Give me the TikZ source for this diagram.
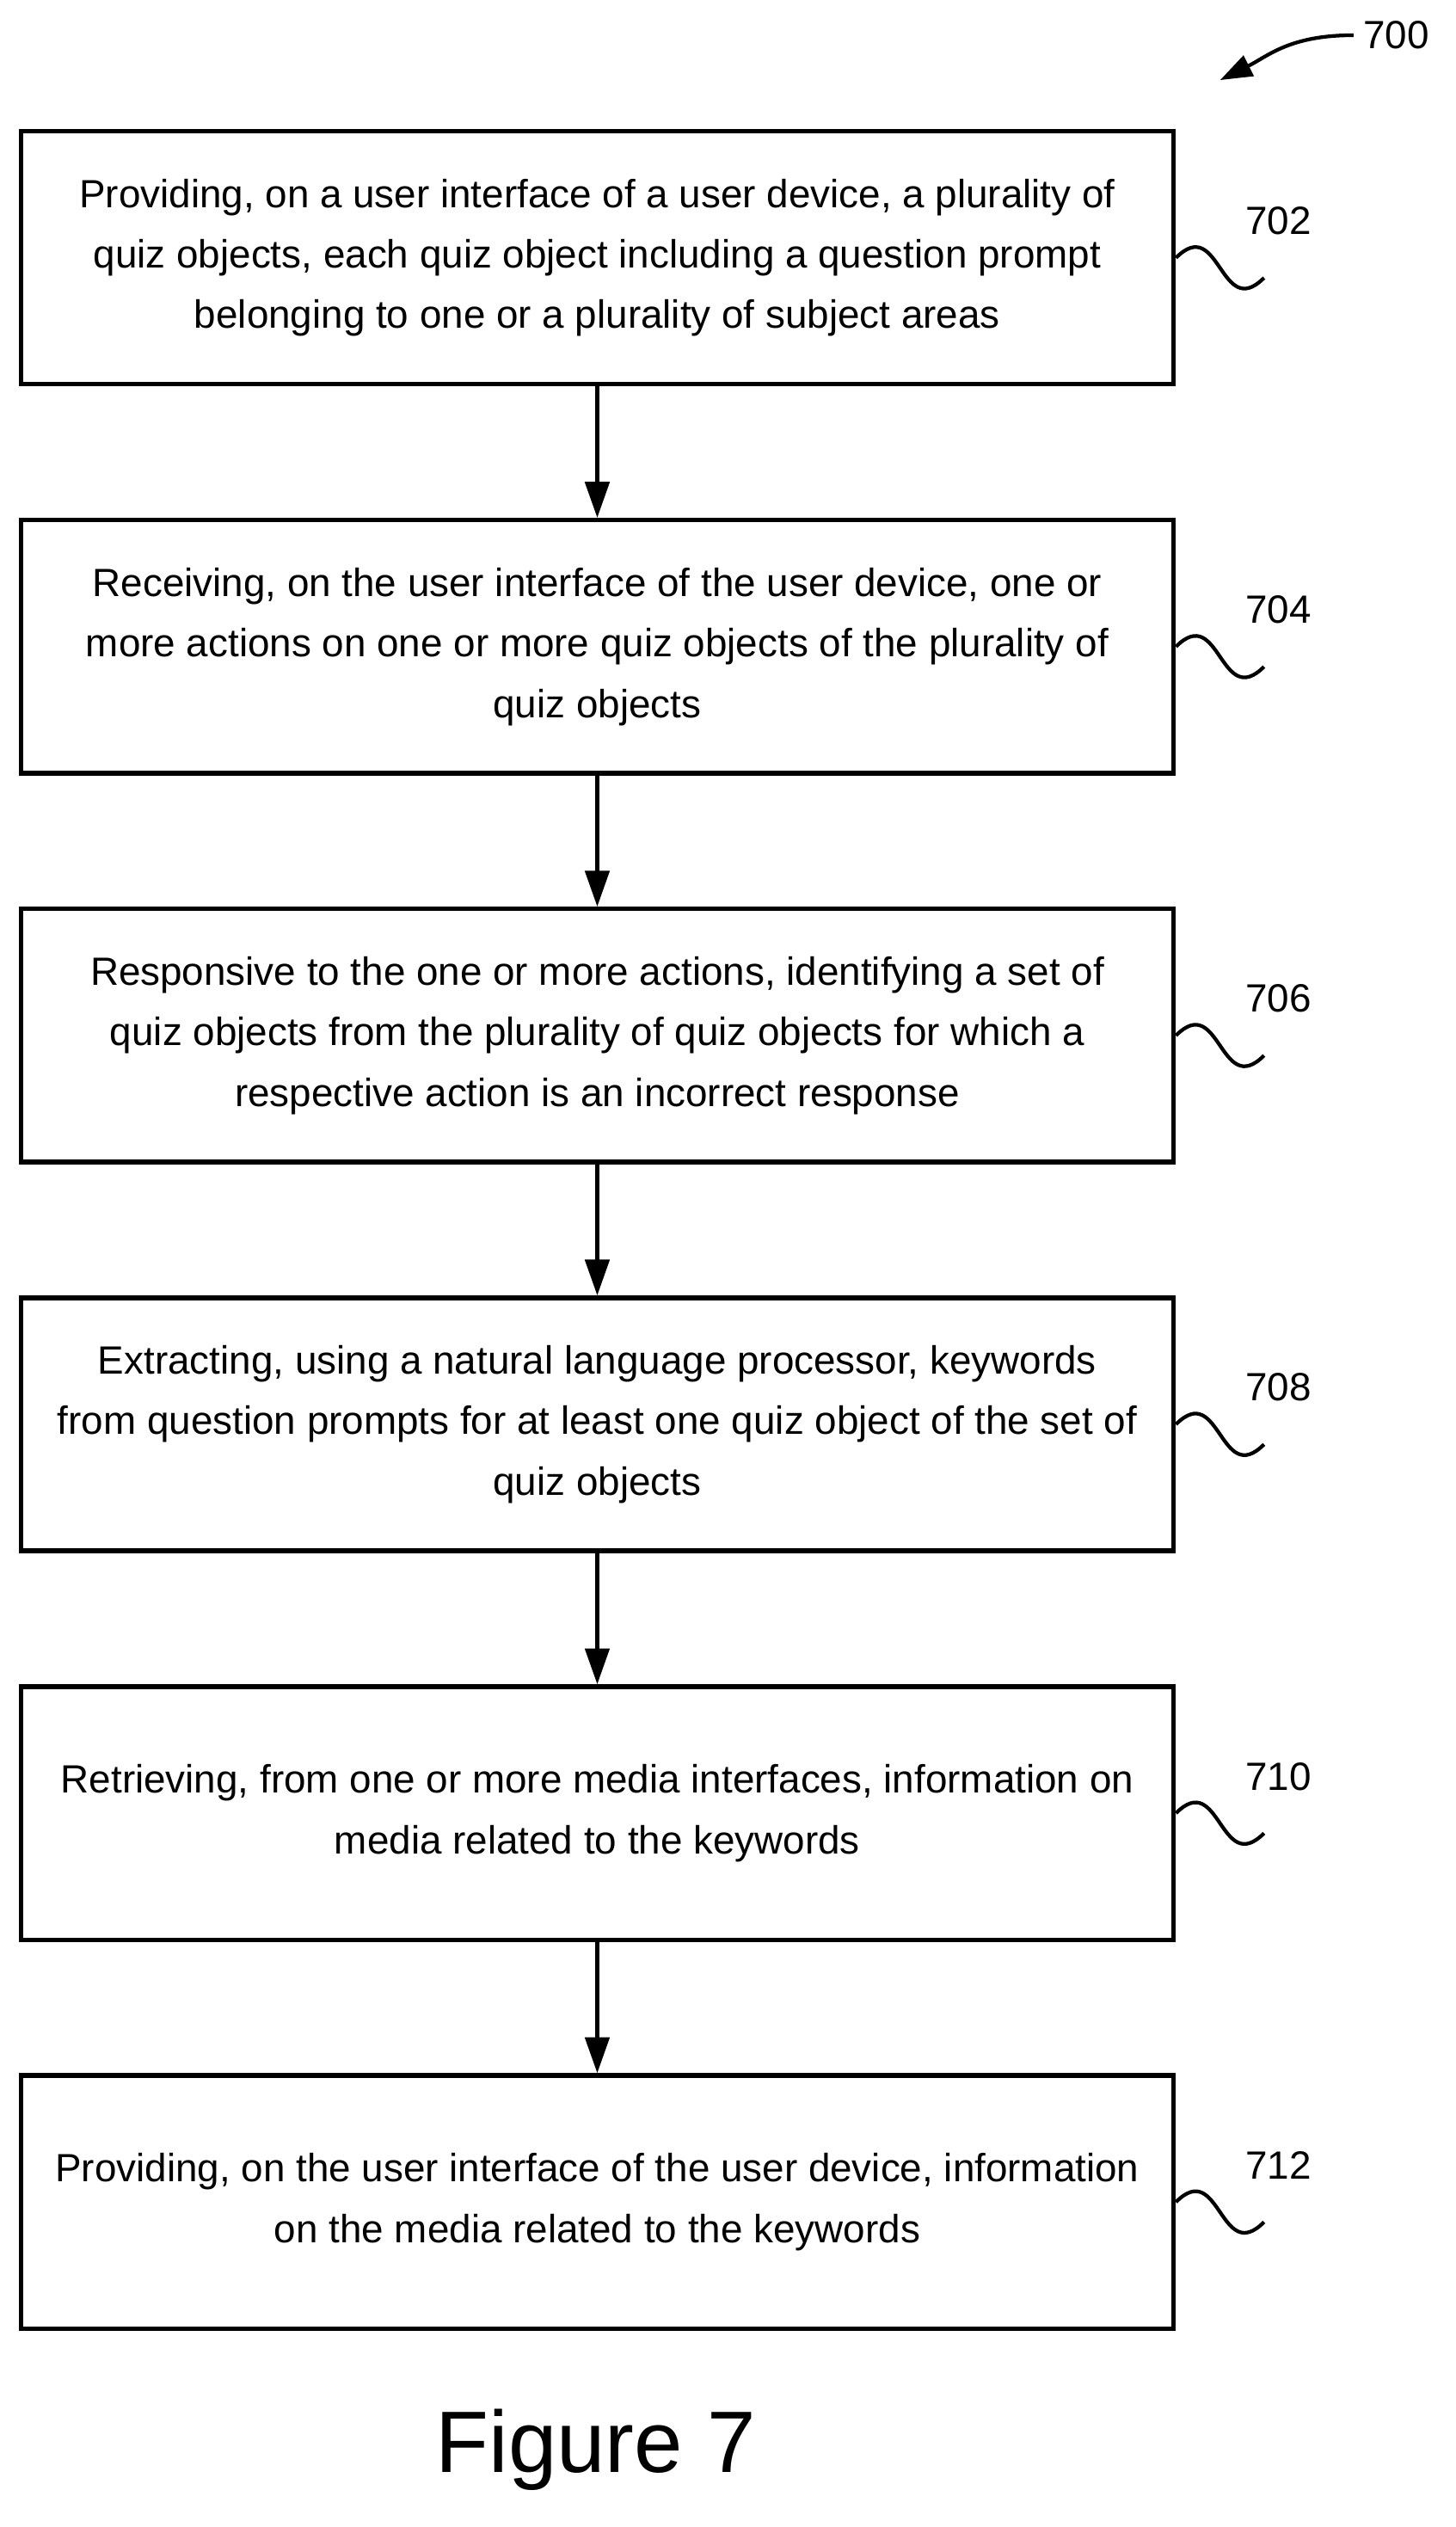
\documentclass[tikz,border=0pt]{standalone}
\usepackage{fontspec}
\setmainfont{Liberation Sans}
\usetikzlibrary{positioning,arrows.meta,calc}

\tikzset{
  stepbox/.style={draw, line width=1.6pt, minimum width=14.4cm, minimum height=3.16cm,
    align=center, font=\fontsize{14}{21.5}\selectfont, inner sep=0pt},
  flow/.style={line width=1.6pt, -{Triangle[length=0.45cm,width=0.3cm]}},
  refnum/.style={font=\fontsize{14}{16}\selectfont},
  squig/.style={line width=1.3pt}
}

\begin{document}
\begin{tikzpicture}[node distance=1.64cm]
 \useasboundingbox (0,0) rectangle (18.18,-31.56);

 \node[stepbox] (s702) at (7.46,-3.22) {Providing, on a user interface of a user device, a plurality of\\quiz objects, each quiz object including a question prompt\\belonging to one or a plurality of subject areas};
 \node[stepbox, below=of s702] (s704) {Receiving, on the user interface of the user device, one or\\more actions on one or more quiz objects of the plurality of\\quiz objects};
 \node[stepbox, below=of s704] (s706) {Responsive to the one or more actions, identifying a set of\\quiz objects from the plurality of quiz objects for which a\\respective action is an incorrect response};
 \node[stepbox, below=of s706] (s708) {Extracting, using a natural language processor, keywords\\from question prompts for at least one quiz object of the set of\\quiz objects};
 \node[stepbox, below=of s708] (s710) {Retrieving, from one or more media interfaces, information on\\media related to the keywords};
 \node[stepbox, below=of s710] (s712) {Providing, on the user interface of the user device, information\\on the media related to the keywords};

 \draw[flow] (s702) -- (s704);
 \draw[flow] (s704) -- (s706);
 \draw[flow] (s706) -- (s708);
 \draw[flow] (s708) -- (s710);
 \draw[flow] (s710) -- (s712);

 % reference numerals
 \foreach \n in {702,704,706,708,710,712} {
   \coordinate (e\n) at ($(s\n.east)+(1.1,-0.25)$);
   \draw[squig] (s\n.east) .. controls +(0.55,0.55) and +(-0.55,-0.55) .. (e\n);
   \node[refnum] (r\n) at ($(s\n.east)+(1.28,0.46)$) {\n};
 }

 \node[refnum] (r700) at (17.44,-0.44) {700};
 \coordinate (t700) at (15.24,-1.0);
 \draw[squig, -{Triangle[length=0.4cm,width=0.28cm]}] (r700.west) .. controls +(-0.8,0) and +(0.6,0.3) .. (t700);

 \node[font=\fontsize{31}{36}\selectfont] (fig) at (7.44,-30.6) {Figure 7};
\end{tikzpicture}
\end{document}
